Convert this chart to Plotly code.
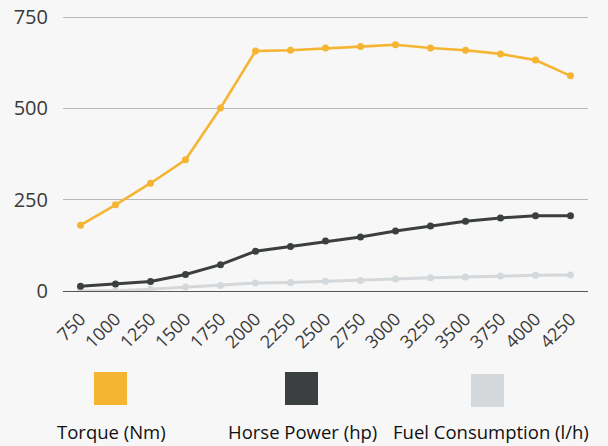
import plotly.graph_objects as go

rpm = [750, 1000, 1250, 1500, 1750, 2000, 2250, 2500, 2750, 3000, 3250, 3500, 3750, 4000, 4250]
torque = [180, 236, 295, 359, 501, 657, 659, 665, 669, 674, 665, 659, 649, 632, 589]
horse_power = [13, 19, 26, 45, 72, 109, 122, 137, 148, 164, 178, 191, 200, 206, 206]
fuel = [1, 1, 5, 11, 15, 22, 23.5, 27, 29, 33, 36, 38, 41, 43, 44]
y_ticks = [0, 250, 500, 750]

series_names = ["Torque (Nm)", "Horse Power (hp)", "Fuel Consumption (l/h)"]
series_values = [torque, horse_power, fuel]
colors = ["#f5b533", "#3c3f40", "#d5d8db"]
widths = [2.6, 3, 3]

fig = go.Figure()
for name, vals, c, w in zip(series_names[::-1], series_values[::-1], colors[::-1], widths[::-1]):
    fig.add_trace(go.Scatter(
        x=rpm, y=vals, name=name, mode="lines+markers",
        line=dict(color=c, width=w),
        marker=dict(color=c, size=7),
        showlegend=False,
    ))

font_family = "Open Sans, Noto Sans, sans-serif"

L, R, T, B = 63, 588, 10, 291
Y750 = 17
fig.update_layout(
    width=608, height=446,
    margin=dict(l=L, r=608 - R, t=T, b=446 - B, autoexpand=False),
    paper_bgcolor="#f7f7f7",
    plot_bgcolor="#f7f7f7",
    font=dict(family=font_family, size=18, color="#3a3a3a"),
    xaxis=dict(
        range=[625, 4375],
        tickvals=rpm,
        ticktext=[str(v) for v in rpm],
        tickangle=-45,
        showgrid=False,
        zeroline=False,
        showline=False,
        tickfont=dict(size=18, color="#3a3a3a"),
        ticklabelstandoff=13,
        fixedrange=True,
        automargin=False,
    ),
    yaxis=dict(
        range=[0, 750 * (B - T) / (B - Y750)],
        tickvals=y_ticks,
        showgrid=True,
        gridcolor="#b8b8b8",
        gridwidth=1,
        zeroline=True,
        zerolinecolor="#555555",
        zerolinewidth=1,
        showline=False,
        ticklabelstandoff=14,
        tickfont=dict(size=20, color="#3a3a3a"),
        fixedrange=True,
        automargin=False,
    ),
)

# custom legend: square above label
legend_sq = [(94, 127, 372, 405), (285, 318, 372, 405), (471, 504, 374, 407)]
legend_txt_x = [111, 302, 491]
W, H = R - L, B - T
for (x0, x1, y0, y1), c in zip(legend_sq, colors):
    fig.add_shape(type="rect", xref="paper", yref="paper",
                  x0=(x0 - L) / W, x1=(x1 - L) / W,
                  y0=(B - y1) / H, y1=(B - y0) / H,
                  fillcolor=c, line=dict(width=0))
for name, tx in zip(series_names, legend_txt_x):
    fig.add_annotation(text=name, xref="paper", yref="paper",
                       x=(tx - L) / W, y=(B - 431) / H,
                       xanchor="center", yanchor="middle", showarrow=False,
                       font=dict(size=18.5, color="#111111", family=font_family))

fig.write_html("out.html", config={"displayModeBar": False},
               post_script="document.body.style.margin='0';")
